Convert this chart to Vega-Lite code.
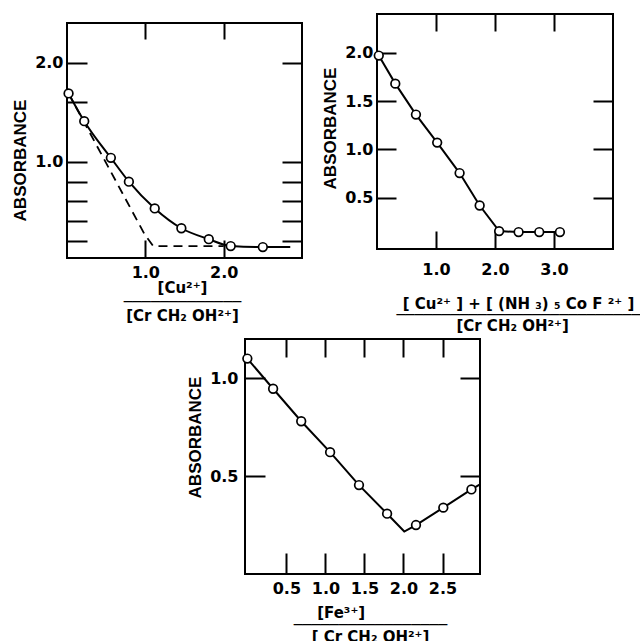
{
  "$schema": "https://vega.github.io/schema/vega-lite/v6.json",
  "background": "white",
  "padding": {"left": 10, "top": 12, "right": 0, "bottom": 0},
  "datasets": {
    "p1pts": [{"x":0.02,"y":1.69},{"x":0.22,"y":1.41},{"x":0.56,"y":1.04},{"x":0.79,"y":0.80},{"x":1.12,"y":0.53},{"x":1.46,"y":0.33},{"x":1.81,"y":0.22},{"x":2.09,"y":0.15},{"x":2.50,"y":0.14}],
    "p1line": [{"x":0.02,"y":1.69},{"x":0.22,"y":1.41},{"x":0.56,"y":1.04},{"x":0.79,"y":0.80},{"x":1.12,"y":0.53},{"x":1.46,"y":0.33},{"x":1.81,"y":0.22},{"x":2.09,"y":0.15},{"x":2.50,"y":0.14},{"x":2.85,"y":0.14}],
    "p1dash": [{"x":0.02,"y":1.69},{"x":0.99,"y":0.27},{"x":1.10,"y":0.15},{"x":2.0,"y":0.15}],
    "p2pts": [{"x":0.03,"y":1.97},{"x":0.31,"y":1.68},{"x":0.66,"y":1.36},{"x":1.02,"y":1.07},{"x":1.40,"y":0.755},{"x":1.74,"y":0.42},{"x":2.07,"y":0.155},{"x":2.40,"y":0.145},{"x":2.75,"y":0.145},{"x":3.10,"y":0.145}],
    "p3pts": [{"x":0.0,"y":1.10},{"x":0.33,"y":0.946},{"x":0.69,"y":0.78},{"x":1.06,"y":0.622},{"x":1.43,"y":0.454},{"x":1.79,"y":0.308},{"x":2.16,"y":0.25},{"x":2.51,"y":0.339},{"x":2.87,"y":0.432}],
    "p3line": [{"x":0.0,"y":1.10},{"x":0.33,"y":0.946},{"x":0.69,"y":0.78},{"x":1.06,"y":0.622},{"x":1.43,"y":0.454},{"x":1.79,"y":0.308},{"x":2.01,"y":0.217},{"x":2.16,"y":0.25},{"x":2.51,"y":0.339},{"x":2.87,"y":0.432},{"x":2.98,"y":0.458}],
    "none": []
  },
  "config": {
    "view": {"stroke": "black", "strokeWidth": 2},
    "axis": {"domain": false, "grid": false, "tickColor": "black", "tickWidth": 2, "labelFont": "DejaVu Sans", "labelFontSize": 16, "labelFontWeight": "bold", "labelColor": "black", "labelOverlap": false, "labelFlush": false, "titleColor": "black"}
  },
  "spacing": 3,
  "vconcat": [
    {
      "spacing": 16,
      "hconcat": [
        {
          "spacing": 0,
          "vconcat": [
            {"width": 1, "height": 7, "view": {"stroke": null}, "data": {"name": "none"}, "mark": {"type": "point", "opacity": 0}, "encoding": {}},
            {
              "width": 235, "height": 235,
              "layer": [
                {
                  "data": {"name": "p1dash"},
                  "mark": {"type": "line", "color": "black", "strokeWidth": 1.8, "strokeDash": [9, 6]},
                  "encoding": {
                    "x": {"field": "x", "type": "quantitative", "scale": {"domain": [0, 3], "nice": false, "zero": false},
                      "axis": {"orient": "bottom", "values": [1, 2], "format": ".1f", "tickSize": -18, "labelPadding": 24,
                        "title": ["[Cu²⁺]", "─────────────", "[Cr CH₂ OH²⁺]"], "titleFont": "DejaVu Sans", "titleFontSize": 15, "titleFontWeight": "bold", "titleBaseline": "alphabetic", "titleLineHeight": 14, "titleY": 34, "titleX": 115}},
                    "y": {"field": "y", "type": "quantitative", "scale": {"domain": [0.03, 2.4], "nice": false, "zero": false},
                      "axis": {"orient": "left", "values": [0.2, 0.4, 0.6, 0.8, 1, 1.6, 2], "format": ".1f", "labelExpr": "datum.value == 1 || datum.value == 2 ? datum.label : ''", "tickSize": -20, "labelPadding": 24,
                        "title": "ABSORBANCE", "titleFont": "Liberation Sans", "titleFontSize": 17, "titleFontWeight": "bold", "titlePadding": 5, "titleY": 137}}
                  }
                },
                {
                  "data": {"name": "p1line"},
                  "mark": {"type": "line", "color": "black", "strokeWidth": 2, "interpolate": "monotone"},
                  "encoding": {
                    "x": {"field": "x", "type": "quantitative", "axis": {"orient": "top", "values": [1, 2], "labels": false, "tickSize": -16, "title": null}},
                    "y": {"field": "y", "type": "quantitative", "axis": {"orient": "right", "values": [0.2, 0.4, 0.6, 0.8, 1, 2], "labels": false, "tickSize": -20, "title": null}}
                  }
                },
                {
                  "data": {"name": "p1pts"},
                  "mark": {"type": "circle", "fill": "white", "stroke": "black", "strokeWidth": 1.7, "size": 75, "opacity": 1},
                  "encoding": {
                    "x": {"field": "x", "type": "quantitative", "axis": null},
                    "y": {"field": "y", "type": "quantitative", "axis": null}
                  }
                }
              ],
              "resolve": {"axis": {"x": "independent", "y": "independent"}}
            }
          ]
        },
        {
          "width": 236, "height": 235,
          "layer": [
            {
              "data": {"name": "p2pts"},
              "mark": {"type": "line", "color": "black", "strokeWidth": 2},
              "encoding": {
                "x": {"field": "x", "type": "quantitative", "scale": {"domain": [0, 4], "nice": false, "zero": false},
                  "axis": {"orient": "bottom", "values": [1, 2, 3], "format": ".1f", "tickSize": -18, "labelPadding": 30,
                    "title": ["[ Cu²⁺ ] + [ (NH ₃) ₅ Co F ²⁺ ]", "───────────────────────────", "[Cr CH₂ OH²⁺]⠀"], "titleFont": "DejaVu Sans", "titleFontSize": 15, "titleFontWeight": "bold", "titleBaseline": "alphabetic", "titleLineHeight": 11, "titleY": 59, "titleX": 141}},
                "y": {"field": "y", "type": "quantitative", "scale": {"domain": [-0.03, 2.4], "nice": false, "zero": false},
                  "axis": {"orient": "left", "values": [0.5, 1, 1.5, 2], "format": ".1f", "tickSize": -19, "labelPadding": 23,
                    "title": "ABSORBANCE", "titleFont": "Liberation Sans", "titleFontSize": 17, "titleFontWeight": "bold", "titlePadding": 5, "titleY": 114}}
              }
            },
            {
              "data": {"name": "p2pts"},
              "mark": {"type": "circle", "fill": "white", "stroke": "black", "strokeWidth": 1.7, "size": 75, "opacity": 1},
              "encoding": {
                "x": {"field": "x", "type": "quantitative", "axis": {"orient": "top", "values": [1, 2, 3], "labels": false, "tickSize": -17, "title": null}},
                "y": {"field": "y", "type": "quantitative", "axis": {"orient": "right", "values": [0.5, 1, 1.5], "labels": false, "tickSize": -20, "title": null}}
              }
            }
          ],
          "resolve": {"axis": {"x": "independent", "y": "independent"}}
        }
      ]
    },
    {
      "spacing": 0,
      "hconcat": [
        {"width": 118, "height": 1, "view": {"stroke": null}, "data": {"name": "none"}, "mark": {"type": "point", "opacity": 0}, "encoding": {}},
        {
          "width": 235, "height": 235,
          "layer": [
            {
              "data": {"name": "p3line"},
              "mark": {"type": "line", "color": "black", "strokeWidth": 2},
              "encoding": {
                "x": {"field": "x", "type": "quantitative", "scale": {"domain": [-0.03, 2.98], "nice": false, "zero": false},
                  "axis": {"orient": "bottom", "values": [0.5, 1, 1.5, 2, 2.5], "format": ".1f", "tickSize": -21, "labelPadding": 27,
                    "title": ["[Fe³⁺]⠀⠀⠀⠀⠀", "─────────────────", "[ Cr CH₂ OH²⁺]"], "titleFont": "DejaVu Sans", "titleFontSize": 15, "titleFontWeight": "bold", "titleBaseline": "alphabetic", "titleLineHeight": 12, "titleY": 43, "titleX": 125}},
                "y": {"field": "y", "type": "quantitative", "scale": {"domain": [0, 1.2], "nice": false, "zero": false},
                  "axis": {"orient": "left", "values": [0.5, 1], "format": ".1f", "tickSize": -20, "labelPadding": 27,
                    "title": "ABSORBANCE", "titleFont": "Liberation Sans", "titleFontSize": 17, "titleFontWeight": "bold", "titlePadding": 5, "titleY": 98}}
              }
            },
            {
              "data": {"name": "p3pts"},
              "mark": {"type": "circle", "fill": "white", "stroke": "black", "strokeWidth": 1.7, "size": 75, "opacity": 1},
              "encoding": {
                "x": {"field": "x", "type": "quantitative", "axis": {"orient": "top", "values": [0.5, 1, 1.5, 2, 2.5], "labels": false, "tickSize": -18, "title": null}},
                "y": {"field": "y", "type": "quantitative", "axis": {"orient": "right", "values": [0.5, 1], "labels": false, "tickSize": -20, "title": null}}
              }
            }
          ],
          "resolve": {"axis": {"x": "independent", "y": "independent"}}
        }
      ]
    }
  ]
}
